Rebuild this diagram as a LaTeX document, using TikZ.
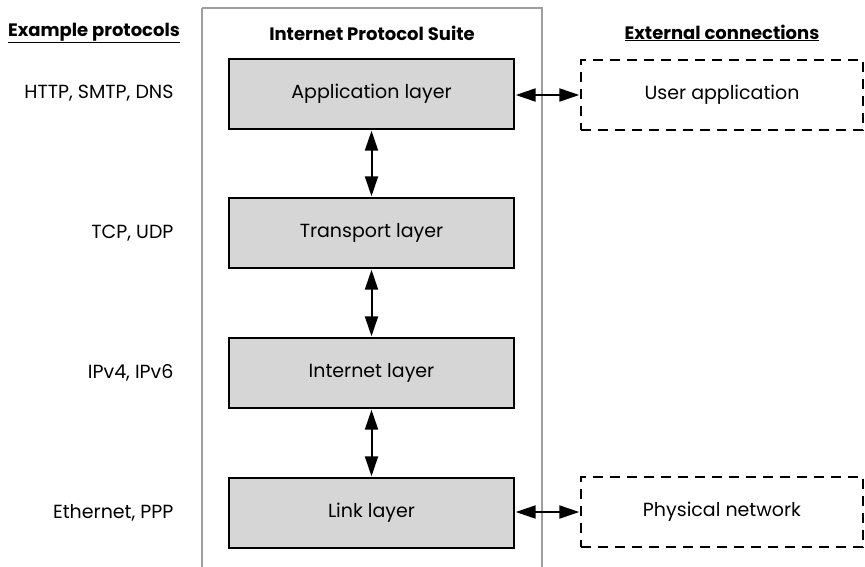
\documentclass[tikz,border=0pt]{standalone}
\usepackage{fontspec}
\setmainfont{Poppins}
\usetikzlibrary{positioning, arrows.meta}
\tikzset{
x=1pt, y=-1pt, % one unit is one pixel of the layout
>={Triangle[length=20pt, width=13pt]}, % big solid heads
every node/.style={font=\fontsize{19}{22}\selectfont},
layer/.style={draw, line width=2.4pt, fill=gray!32, minimum width=285pt, minimum height=70pt, inner sep=0pt},
extern/.style={draw, dashed, dash pattern=on 10pt off 7pt, line width=2.4pt, minimum width=282pt, minimum height=70pt, inner sep=0pt},
link/.style={<->, line width=2pt, shorten <=0.5pt, shorten >=0.5pt},
heading/.style={font=\fontsize{18}{21}\selectfont\bfseries},
}

\begin{document}
\begin{tikzpicture}
            \useasboundingbox (0,0) rectangle (865,566);
            % the suite
            \draw[gray!75, line width=2pt] (202,8) -- (202,580) (202,8) -- (542,8) -- (542,580);
            \node[heading] (hsuite) at (372,33) {Internet Protocol Suite};
            \node[heading] (hproto) at (94,33) {\underline{Example protocols}};
            \node[heading] (hext) at (722,33) {\underline{External connections}};
            % layers
            \node[layer] (app) at (371.5,94) {Application layer};
            \node[layer] (trans) at (371.5,233) {Transport layer};
            \node[layer] (inet) at (371.5,373) {Internet layer};
            \node[layer] (lnk) at (371.5,513) {Link layer};
            % outside
            \node[extern] (user) at (722,95) {User application};
            \node[extern] (phys) at (722,512) {Physical network};
            % protocols
            \node[anchor=east] (papp) at (177,93) {HTTP, SMTP, DNS};
            \node[anchor=east] (ptrans) at (177,233) {TCP, UDP};
            \node[anchor=east] (pinet) at (177,373) {IPv4, IPv6};
            \node[anchor=east] (plnk) at (177,513) {Ethernet, PPP};
            \draw[link] (app) -- (trans);
            \draw[link] (trans) -- (inet);
            \draw[link] (inet) -- (lnk);
            \draw[link] (user.west -| app.east) -- (user.west);
            \draw[link] (phys.west -| lnk.east) -- (phys.west);
\end{tikzpicture}
\end{document}
